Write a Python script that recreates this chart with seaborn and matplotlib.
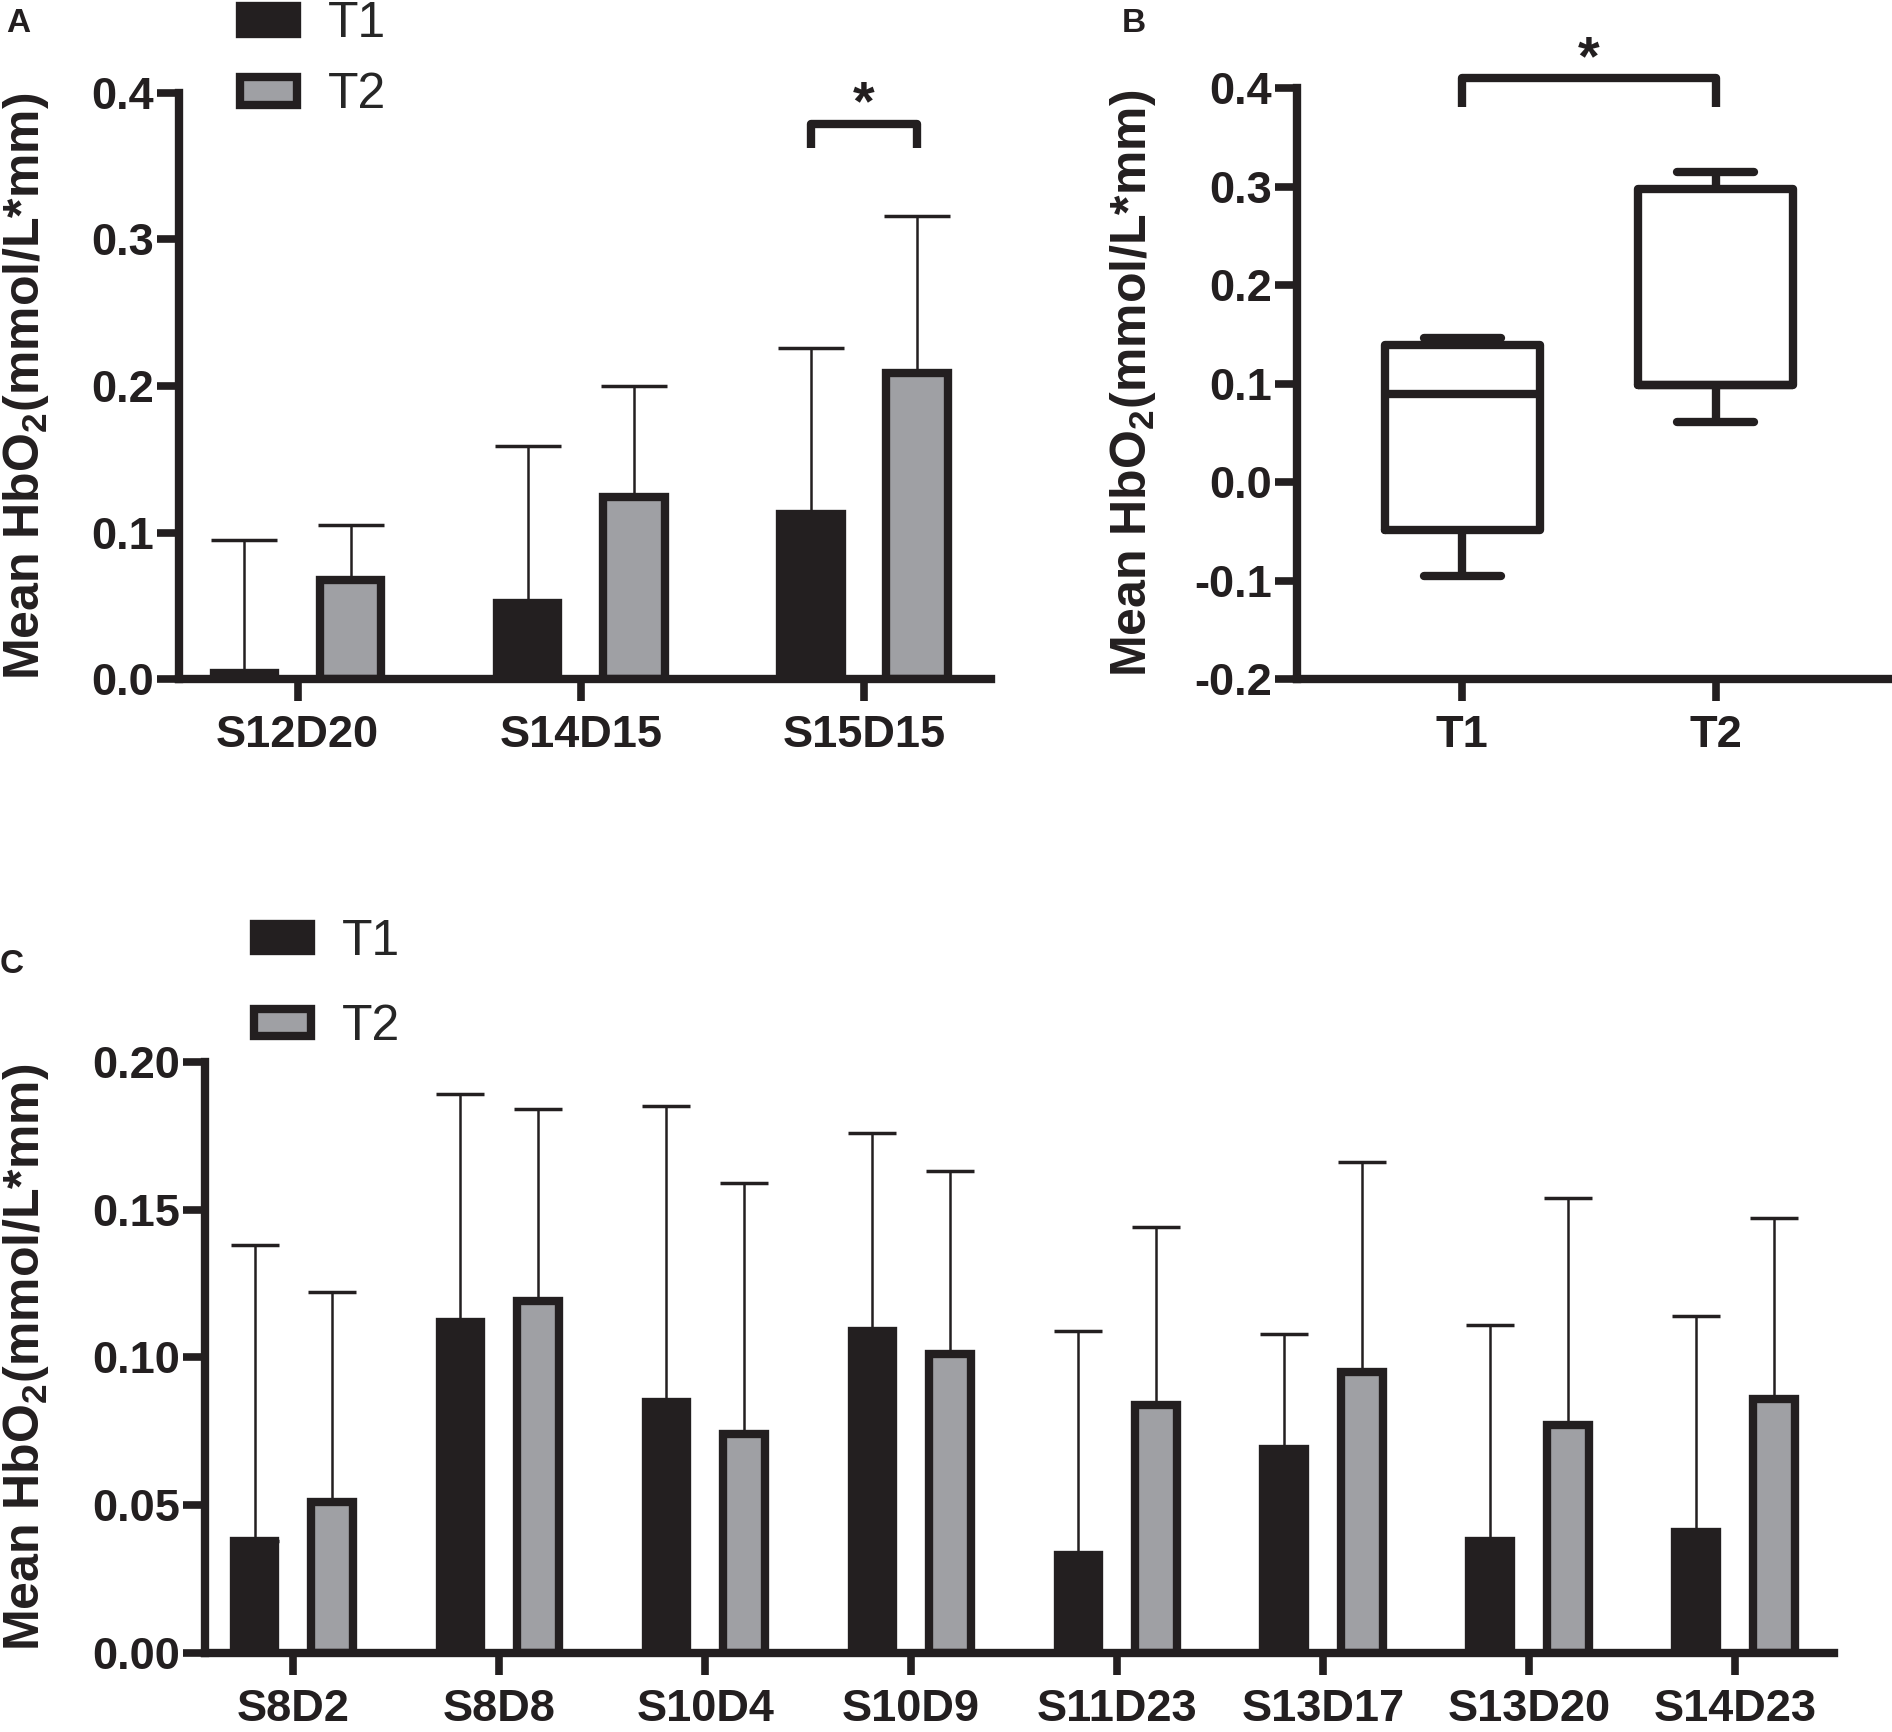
import numpy as np
import pandas as pd
import matplotlib
matplotlib.use('Agg')
import matplotlib.pyplot as plt
import seaborn as sns
from matplotlib.patches import Patch
from matplotlib.ticker import FormatStrFormatter

# ---- data ----
times = ['T1', 'T2']

# panel A: mean and mean+SD
chan_a = ['S12D20', 'S14D15', 'S15D15']
mean_a_t1 = [0.004, 0.052, 0.113]
mean_a_t2 = [0.068, 0.124, 0.209]
top_a_t1 = [0.095, 0.159, 0.226]
top_a_t2 = [0.105, 0.200, 0.316]

# panel B: min, Q1, median, Q3, max
box_t1 = [-0.095, -0.048, 0.090, 0.139, 0.146]
box_t2 = [0.061, 0.099, 0.099, 0.298, 0.315]

# panel C
chan_c = ['S8D2', 'S8D8', 'S10D4', 'S10D9', 'S11D23', 'S13D17', 'S13D20', 'S14D23']
mean_c_t1 = [0.038, 0.112, 0.085, 0.109, 0.033, 0.069, 0.038, 0.041]
mean_c_t2 = [0.051, 0.119, 0.074, 0.101, 0.084, 0.095, 0.077, 0.086]
top_c_t1 = [0.138, 0.189, 0.185, 0.176, 0.109, 0.108, 0.111, 0.114]
top_c_t2 = [0.122, 0.184, 0.159, 0.163, 0.144, 0.166, 0.154, 0.147]

dark = '#231f20'
grey = '#9fa0a4'
pal = {'T1': dark, 'T2': grey}

sns.set_style('ticks')
plt.rcParams['font.family'] = ['Liberation Sans', 'DejaVu Sans']
plt.rcParams['font.weight'] = 'bold'
plt.rcParams['axes.labelweight'] = 'bold'
plt.rcParams['axes.unicode_minus'] = False
plt.rcParams['mathtext.fontset'] = 'custom'
plt.rcParams['mathtext.bf'] = 'Liberation Sans:bold'
plt.rcParams['mathtext.rm'] = 'Liberation Sans:bold'
plt.rcParams['mathtext.default'] = 'bf'

ylab = r'Mean HbO$_2$(mmol/L*mm)'

fig = plt.figure(figsize=(18.92, 17.32), dpi=100)


def style_axes(ax, fmt, labx):
    sns.despine(ax=ax)
    for s in ['left', 'bottom']:
        ax.spines[s].set_linewidth(6)
        ax.spines[s].set_color(dark)
    ax.tick_params(axis='both', length=16, width=5.5, color=dark, labelsize=32.5, labelcolor=dark)
    ax.tick_params(axis='y', pad=2)
    ax.tick_params(axis='x', pad=10)
    ax.yaxis.set_major_formatter(FormatStrFormatter(fmt))
    ax.set_xlabel('')
    ax.set_ylabel(ylab, fontsize=36, fontweight='bold', color=dark)
    ax.yaxis.set_label_coords(labx, 0.5)


def bar_panel(ax, chans, m1, m2, top1, top2, width, gap, capsize):
    df = pd.DataFrame({
        'channel': chans * 2,
        'time': ['T1'] * len(chans) + ['T2'] * len(chans),
        'value': m1 + m2,
    })
    sns.barplot(data=df, x='channel', y='value', hue='time', palette=pal,
                width=width, gap=gap, edgecolor=dark, linewidth=6,
                errorbar=None, legend=False, saturation=1, ax=ax)
    for cont, means, tops in zip(ax.containers, [m1, m2], [top1, top2]):
        xs = [p.get_x() + p.get_width() / 2 for p in cont]
        sd = np.array(tops) - np.array(means)
        ax.errorbar(xs, means, yerr=[np.zeros(len(sd)), sd], fmt='none',
                    ecolor=dark, elinewidth=1.8, capsize=capsize, capthick=2.5, zorder=1)


def add_legend(ax, x, y, spacing):
    handles = [Patch(facecolor=pal[t], edgecolor=dark, linewidth=6) for t in times]
    ax.legend(handles, times, loc='center left', bbox_to_anchor=(x, y), frameon=False,
              prop={'weight': 'normal', 'size': 36}, handlelength=1.15, handleheight=0.48,
              handletextpad=0.6, labelspacing=spacing, borderpad=0, borderaxespad=0)


def bracket(ax, x1, x2, y0, y1):
    ax.plot([x1, x1, x2, x2], [y0, y1, y1, y0], color=dark, lw=6,
            solid_joinstyle='round', solid_capstyle='butt', clip_on=False)
    ax.annotate('*', xy=((x1 + x2) / 2, y1), xytext=(0, 3), textcoords='offset points',
                ha='center', va='baseline', fontsize=40, color=dark, annotation_clip=False)


# ---- panel A ----
axA = fig.add_axes([0.0944, 0.6078, 0.4296, 0.3386])
bar_panel(axA, chan_a, mean_a_t1, mean_a_t2, top_a_t1, top_a_t2, 0.75, 0.42, 24)
axA.set_ylim(0, 0.4)
axA.set_yticks([0, 0.1, 0.2, 0.3, 0.4])
axA.set_xlim(-0.42, 2.45)
style_axes(axA, '%.1f', -0.157)
pA1 = axA.containers[0][2]
pA2 = axA.containers[1][2]
bracket(axA, pA1.get_x() + pA1.get_width() / 2, pA2.get_x() + pA2.get_width() / 2, 0.3625, 0.379)
add_legend(axA, 0.0755, 1.056, 0.5)

# ---- panel B ----
axB = fig.add_axes([0.6856, 0.6078, 0.3124, 0.3413])
df_b = pd.DataFrame({'time': ['T1'] * len(box_t1) + ['T2'] * len(box_t2),
                     'value': box_t1 + box_t2})
sns.boxplot(data=df_b, x='time', y='value', fill=False, color=dark, linewidth=6,
            whis=(0, 100), width=0.61, ax=axB)
axB.set_ylim(-0.2, 0.4)
axB.set_yticks([-0.2, -0.1, 0, 0.1, 0.2, 0.3, 0.4])
axB.set_xlim(-0.652, 1.681)
style_axes(axB, '%.1f', -0.235)
xb = axB.get_xticks()
bracket(axB, xb[0], xb[1], 0.381, 0.410)

# ---- panel C ----
axC = fig.add_axes([0.1084, 0.0456, 0.8609, 0.3414])
bar_panel(axC, chan_c, mean_c_t1, mean_c_t2, top_c_t1, top_c_t2, 0.752, 0.46, 17)
axC.set_ylim(0, 0.2)
axC.set_yticks([0, 0.05, 0.10, 0.15, 0.20])
axC.set_xlim(-0.428, 7.48)
style_axes(axC, '%.2f', -0.0945)
add_legend(axC, 0.030, 1.13, 0.78)

# panel letters
for lab, x, y in [('A', 18, 23), ('B', 1134, 23), ('C', 12, 964)]:
    fig.text(x / 1892, 1 - y / 1732, lab, fontsize=24, ha='center', va='center', color=dark)

fig.savefig('out.png', dpi=100)
